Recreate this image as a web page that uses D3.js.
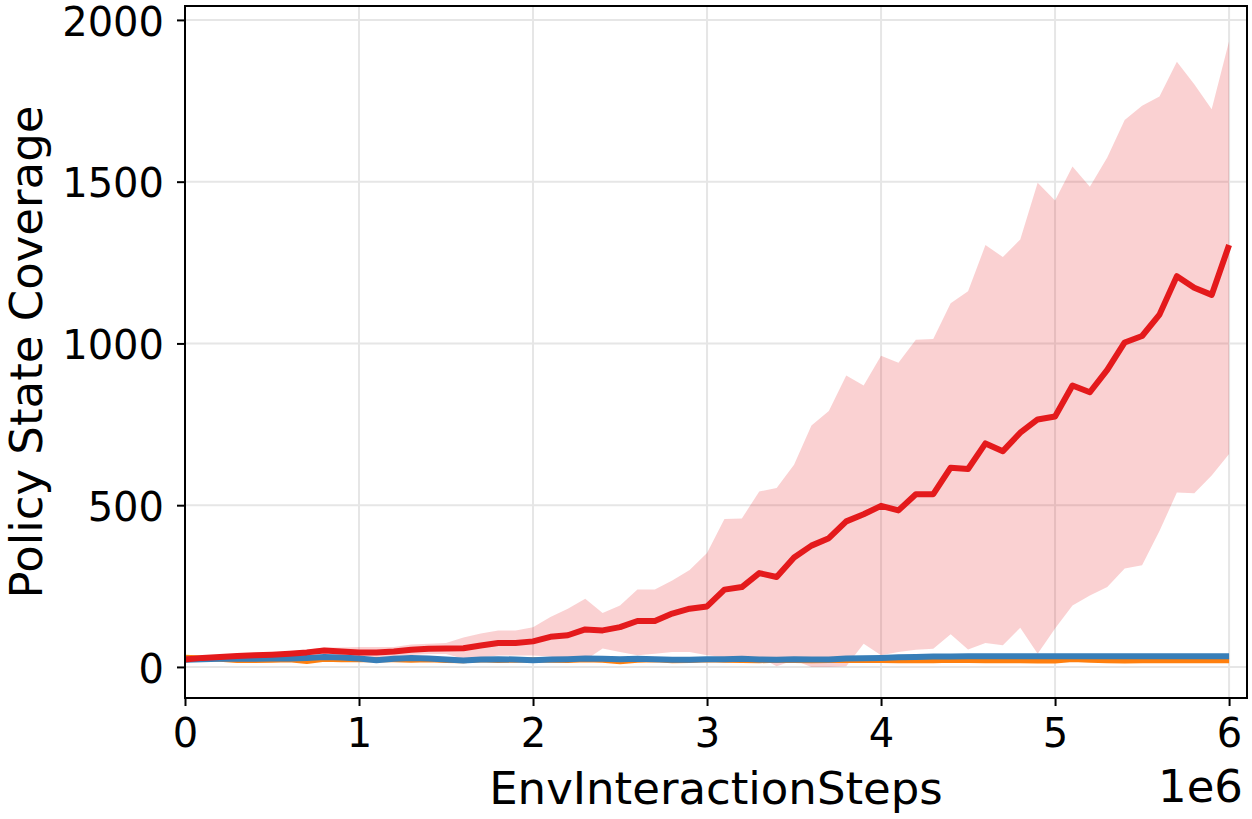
<!doctype html>
<html>
<head>
<meta charset="utf-8">
<title>Policy State Coverage</title>
<script src="https://cdn.jsdelivr.net/npm/d3@7"></script>
<style>
    body { margin: 0; background: white; }
    text { font-family: "DejaVu Sans", sans-serif; fill: black; }
    .tick-label { font-size: 40px; }
    .axis-label { font-size: 45px; }
</style>
</head>
<body>
<script>
    // env steps, in units of 1e6
    const steps = [0.0, 0.1, 0.2, 0.3, 0.4, 0.5, 0.6, 0.7, 0.8, 0.9,
        1.0, 1.1, 1.2, 1.3, 1.4, 1.5, 1.6, 1.7, 1.8, 1.9,
        2.0, 2.1, 2.2, 2.3, 2.4, 2.5, 2.6, 2.7, 2.8, 2.9,
        3.0, 3.1, 3.2, 3.3, 3.4, 3.5, 3.6, 3.7, 3.8, 3.9,
        4.0, 4.1, 4.2, 4.3, 4.4, 4.5, 4.6, 4.7, 4.8, 4.9,
        5.0, 5.1, 5.2, 5.3, 5.4, 5.5, 5.6, 5.7, 5.8, 5.9, 6.0];

    const redMean = [23, 28, 31, 34, 36, 38, 41, 45, 51, 48,
        45, 45, 48, 53, 56, 57, 58, 66, 74, 74,
        79, 93, 98, 116, 113, 123, 142, 142, 165, 180,
        187, 239, 247, 290, 278, 338, 375, 398, 450, 472,
        498, 484, 534, 534, 616, 612, 691, 667, 724, 765,
        774, 870, 849, 918, 1003, 1023, 1089, 1208, 1172, 1150, 1304];
    const redUpper = [30, 34, 38, 41, 43, 45, 48, 53, 60, 60,
        62, 62, 62, 69, 72, 74, 91, 103, 113, 113,
        123, 154, 180, 211, 167, 190, 239, 239, 267, 300,
        352, 457, 459, 542, 553, 625, 746, 791, 901, 870,
        962, 940, 1011, 1014, 1124, 1161, 1304, 1267, 1321, 1497,
        1442, 1547, 1484, 1575, 1691, 1735, 1763, 1871, 1801, 1724, 1934];
    const redLower = [16, 22, 24, 27, 29, 31, 34, 37, 42, 36,
        28, 28, 34, 37, 40, 40, 25, 29, 35, 35,
        35, 32, 20, 21, 57, 46, 36, 41, 46, 46,
        36, 31, 21, 31, 2, 21, 0, 0, 2, 72,
        36, 46, 53, 56, 101, 54, 74, 67, 121, 41,
        119, 190, 221, 247, 304, 314, 420, 539, 537, 592, 658];
    const blueMean = [22, 24, 25, 25, 25, 26, 26, 28, 31, 29,
        26, 21, 25, 28, 26, 23, 20, 23, 24, 23,
        21, 23, 24, 26, 25, 24, 25, 24, 22, 22,
        24, 24, 25, 23, 22, 24, 23, 23, 26, 27,
        28, 30, 31, 32, 32, 33, 33, 33, 33, 33,
        33, 33, 33, 33, 33, 33, 33, 33, 33, 33, 33];
    const orangeMean = [30, 28, 24, 20, 20, 21, 22, 17, 24, 22,
        22, 23, 22, 21, 22, 20, 19, 22, 20, 21,
        22, 21, 20, 22, 21, 16, 21, 22, 19, 20,
        22, 21, 20, 19, 21, 20, 19, 20, 21, 20,
        20, 19, 20, 19, 21, 20, 19, 20, 19, 18,
        18, 23, 21, 19, 18, 19, 20, 19, 19, 19, 19];

    const xTicks = [0, 1, 2, 3, 4, 5, 6];
    const yTicks = [0, 500, 1000, 1500, 2000];

    const width = 1252, height = 819;
    const plot = {left: 185, right: 1247, top: 6, bottom: 698};

    const svg = d3.select("body").append("svg")
        .attr("width", width)
        .attr("height", height);

    const x = d3.scaleLinear().domain([0, 6.103]).range([plot.left, plot.right]);
    const y = d3.scaleLinear().domain([-96, 2043]).range([plot.bottom, plot.top]);

    // grid
    const grid = svg.append("g")
        .attr("stroke", "#e6e6e6")
        .attr("stroke-width", 2);
    grid.selectAll(".gx").data(xTicks).enter().append("line")
        .attr("x1", d => x(d)).attr("x2", d => x(d))
        .attr("y1", plot.top).attr("y2", plot.bottom);
    grid.selectAll(".gy").data(yTicks).enter().append("line")
        .attr("x1", plot.left).attr("x2", plot.right)
        .attr("y1", d => y(d)).attr("y2", d => y(d));

    svg.append("clipPath").attr("id", "plotclip")
        .append("rect")
        .attr("x", plot.left).attr("y", plot.top)
        .attr("width", plot.right - plot.left).attr("height", plot.bottom - plot.top);
    const marks = svg.append("g").attr("clip-path", "url(#plotclip)");

    const area = d3.area()
        .x((d, i) => x(steps[i]))
        .y0((d, i) => y(redLower[i]))
        .y1((d, i) => y(redUpper[i]));
    const line = (values) => d3.line()
        .x((d, i) => x(steps[i]))
        .y(d => y(d))(values);

    marks.append("path")
        .attr("d", area(steps))
        .attr("fill", "#e41a1c")
        .attr("fill-opacity", 0.2);

    marks.append("path")
        .attr("d", line(orangeMean))
        .attr("fill", "none")
        .attr("stroke", "#ff7f0e")
        .attr("stroke-width", 5)
        .attr("stroke-linejoin", "round");
    marks.append("path")
        .attr("d", line(blueMean))
        .attr("fill", "none")
        .attr("stroke", "#377eb8")
        .attr("stroke-width", 6)
        .attr("stroke-linejoin", "round");
    marks.append("path")
        .attr("d", line(redMean))
        .attr("fill", "none")
        .attr("stroke", "#e41a1c")
        .attr("stroke-width", 6)
        .attr("stroke-linejoin", "round");

    // frame
    svg.append("rect")
        .attr("x", plot.left).attr("y", plot.top)
        .attr("width", plot.right - plot.left).attr("height", plot.bottom - plot.top)
        .attr("fill", "none")
        .attr("stroke", "black")
        .attr("stroke-width", 2);

    // x axis
    const xAxis = svg.append("g")
        .attr("transform", `translate(0,${plot.bottom})`)
        .call(d3.axisBottom(x).tickValues(xTicks).tickSize(8).tickPadding(13).tickFormat(d3.format("d")));
    xAxis.select(".domain").remove();
    xAxis.selectAll(".tick line").attr("stroke", "black").attr("stroke-width", 2);
    xAxis.selectAll(".tick text")
        .attr("class", "tick-label")
        .attr("fill", "black");
    xAxis.attr("font-size", null).attr("font-family", null);

    // y axis
    const yAxis = svg.append("g")
        .attr("transform", `translate(${plot.left},0)`)
        .call(d3.axisLeft(y).tickValues(yTicks).tickSize(8).tickPadding(13).tickFormat(d3.format("d")));
    yAxis.select(".domain").remove();
    yAxis.selectAll(".tick line").attr("stroke", "black").attr("stroke-width", 2);
    yAxis.selectAll(".tick text")
        .attr("class", "tick-label")
        .attr("dy", "0.38em")
        .attr("fill", "black");
    yAxis.attr("font-size", null).attr("font-family", null);

    svg.append("text")
        .attr("class", "axis-label")
        .attr("x", (plot.left + plot.right) / 2)
        .attr("y", 804)
        .attr("text-anchor", "middle")
        .text("EnvInteractionSteps");

    svg.append("text")
        .attr("class", "axis-label")
        .attr("x", plot.right - 4)
        .attr("y", 802)
        .attr("text-anchor", "end")
        .text("1e6");

    svg.append("text")
        .attr("class", "axis-label")
        .attr("transform", `translate(42,${(plot.top + plot.bottom) / 2}) rotate(-90)`)
        .attr("text-anchor", "middle")
        .text("Policy State Coverage");
</script>
</body>
</html>
